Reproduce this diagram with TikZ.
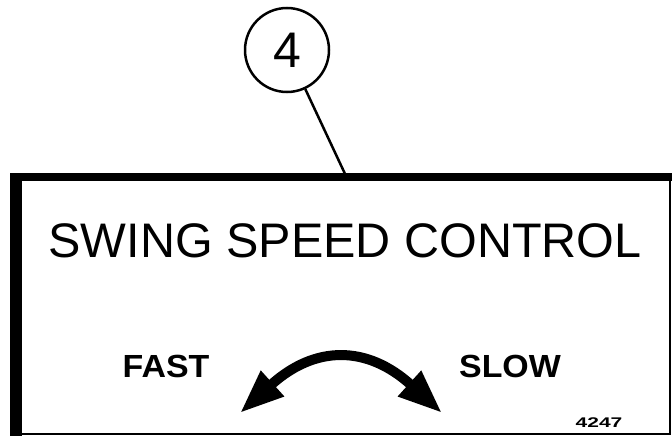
\documentclass[tikz,border=0pt]{standalone}
\usepackage{graphicx}
\usepackage{fontspec}
\setmainfont{Liberation Sans}
\usetikzlibrary{arrows.meta}

\begin{document}
\begin{tikzpicture}[x=1pt, y=-1pt,
  rotulo/.style={font=\fontsize{32}{32}\selectfont\bfseries, inner sep=0pt, anchor=base},
  punta/.tip={Triangle[length=44pt, width=32pt]}]
    \useasboundingbox (0,0) rectangle (672,439);
    % Número de referencia
    \node[draw, circle, line width=2.5pt, minimum size=84pt, inner sep=0pt,
      font=\fontsize{50}{50}\selectfont] (num) at (287,50) {4};
    % Marco del panel (bordes finos)
    \draw[line width=2.5pt] (16,434) -- (670,434) -- (670,177);
    % Borde superior grueso
    \draw[line width=8pt] (10,177) -- (672,177);
    % Borde izquierdo grueso
    \draw[line width=12pt] (16,173) -- (16,436);
    % Línea guía hacia el panel
    \coordinate (ancla) at (346,176);
    \draw[line width=2.5pt] (num) -- (ancla);
    % Título del panel
    \node[font=\fontsize{48.5}{48.5}\selectfont, inner sep=0pt, anchor=base] (titulo) at (345,257) {SWING SPEED CONTROL};
    % Rótulos de velocidad
    \node[rotulo] (rapido) at (166,377) {\scalebox{1.06}[1]{FAST}};
    \node[rotulo] (lento) at (510,377) {\scalebox{1.06}[1]{SLOW}};
    % Flecha curva de doble punta
    \coordinate (izq) at (240,413);
    \coordinate (der) at (442,413);
    \draw[line width=10pt, punta-punta] (izq) .. controls (315,345) and (367,345) .. (der);
    % Número de figura
    \node[font=\fontsize{14}{14}\selectfont\bfseries, inner sep=0pt, anchor=base] (codigo) at (599,427) {\scalebox{1.5}[1]{4247}};
\end{tikzpicture}
\end{document}
